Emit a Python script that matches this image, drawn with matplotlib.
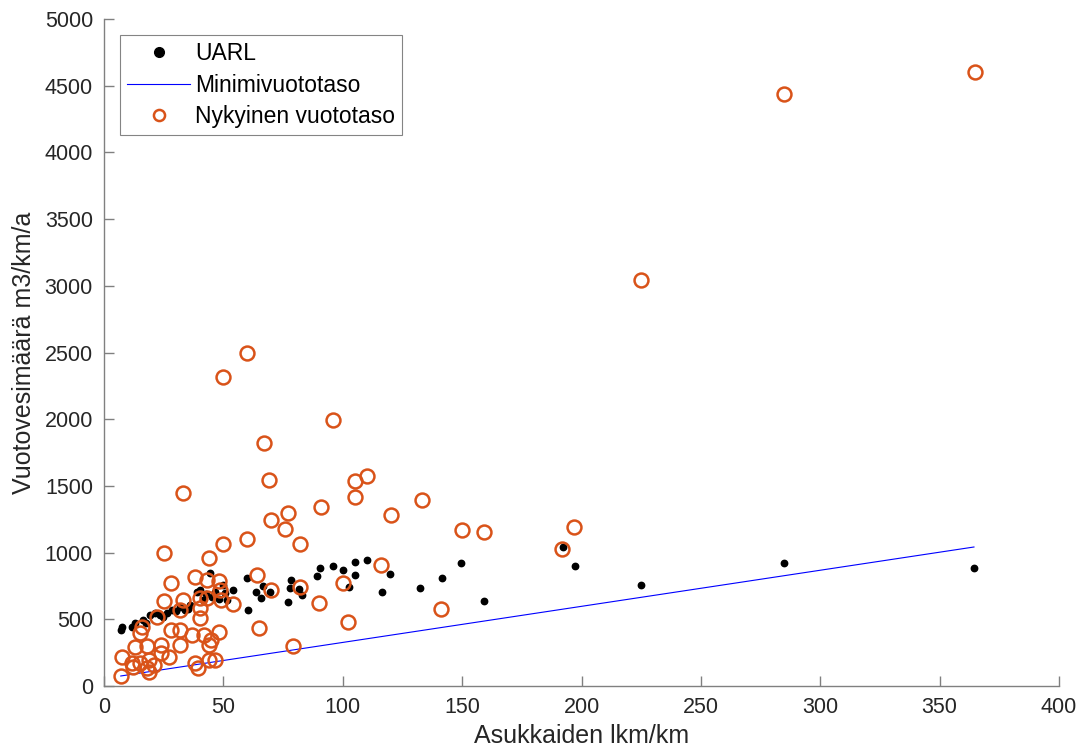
import matplotlib.pyplot as plt

# UARL (black dots)
uarl_x = [7.0, 7.4, 11.6, 13.0, 16.5, 19.3, 21.4, 23.5, 26.3, 28.3, 31.8, 33.9, 36.0,
          38.8, 40.2, 41.6, 44.4, 45.1, 46.5, 50.0, 50.7, 51.4, 54.2, 59.8, 60.1,
          63.7, 65.6, 66.5, 69.5, 77.2, 77.9, 78.2, 81.8, 82.8, 89.4, 90.5, 96.0,
          100.2, 102.8, 105.1, 105.1, 110.0, 116.3, 119.8, 132.4, 141.4, 149.5,
          159.3, 192.1, 197.3, 225.0, 285.0, 364.4, 17.5, 24.5, 30.0, 35.0, 42.5, 48.0]
uarl_y = [420, 445, 445, 470, 495, 532, 545, 532, 550, 570, 595, 570, 607,
          707, 720, 645, 845, 670, 707, 757, 695, 645, 720, 807, 570,
          707, 657, 750, 702, 632, 732, 795, 727, 682, 827, 887, 902,
          870, 740, 927, 832, 945, 707, 837, 732, 807, 920,
          640, 1045, 902, 755, 922, 885, 470, 520, 560, 580, 690, 650]

# Minimivuototaso (blue line)
min_x = [7.0, 364.4]
min_y = [75, 1042]

# Nykyinen vuototaso (orange circles)
nyk_x = [365, 285, 225, 60, 50, 96, 67, 33, 69, 105, 110, 105, 133, 91, 77, 70,
         120, 76, 150, 159, 197, 82, 50, 60, 25, 192, 116, 100, 141, 102, 79, 65,
         90, 64, 70, 82, 44, 28, 38, 43, 48, 25, 33, 40, 43, 49, 54, 22, 32, 40,
         40, 16, 15, 28, 32, 37, 42, 48, 45, 44, 13, 18, 24, 32, 24, 27, 7.4,
         11.6, 15, 19, 18, 21, 12, 19, 7.1, 38, 39.5, 44, 46.5, 48.6]
nyk_y = [4600, 4440, 3045, 2495, 2320, 1995, 1825, 1450, 1545, 1540, 1575, 1420,
         1395, 1345, 1300, 1245, 1280, 1180, 1170, 1155, 1190, 1065, 1065, 1100,
         1000, 1030, 905, 770, 575, 480, 300, 432, 625, 835, 720, 745, 962, 770,
         818, 795, 790, 637, 645, 662, 662, 645, 612, 520, 570, 582, 507, 445, 395,
         420, 420, 382, 382, 407, 345, 307, 295, 300, 307, 307, 245, 215, 220, 170,
         170, 195, 133, 157, 145, 107, 77, 170, 137, 195, 195, 720]

plt.rcParams['font.family'] = ['Liberation Sans', 'DejaVu Sans']
text_col = '#262626'
axis_col = '#808080'

fig = plt.figure(figsize=(10.85, 7.55), dpi=100)
ax = fig.add_axes([0.0959, 0.0914, 0.8801, 0.8834])

ax.plot(uarl_x, uarl_y, 'o', color='black', markersize=4.6, label='UARL')
ax.plot(min_x, min_y, '-', color='#0000FF', linewidth=0.8, label='Minimivuototaso')
ax.plot(nyk_x, nyk_y, 'o', markerfacecolor='none', markeredgecolor='#D95319',
        markersize=10, markeredgewidth=1.8, linestyle='none', label='Nykyinen vuototaso')

ax.set_xlim(0, 400)
ax.set_ylim(0, 5000)
ax.set_xticks(range(0, 401, 50))
ax.set_yticks(range(0, 5001, 500))

for side in ['top', 'right']:
    ax.spines[side].set_visible(False)
for side in ['left', 'bottom']:
    ax.spines[side].set_color(axis_col)
    ax.spines[side].set_linewidth(1.0)
ax.tick_params(direction='in', length=7, width=1.0, color=axis_col,
               labelcolor=text_col, labelsize=15.5, pad=8)

ax.set_xlabel('Asukkaiden lkm/km', fontsize=18, color=text_col, labelpad=4)
ax.set_ylabel('Vuotovesimäärä m3/km/a', fontsize=18, color=text_col, labelpad=6)

leg = ax.legend(loc='upper left', bbox_to_anchor=(0.017, 0.976), fontsize=16.5,
                frameon=True, fancybox=False, borderpad=0.3, labelspacing=0.38,
                handlelength=2.75, handletextpad=0.2, borderaxespad=0)
leg.get_frame().set_edgecolor('#666666')
leg.get_frame().set_linewidth(0.8)
leg.legend_handles[0].set_markersize(7)
leg.legend_handles[2].set_markersize(8)
for t in leg.get_texts():
    t.set_color('black')

fig.savefig('out.png', dpi=100)
